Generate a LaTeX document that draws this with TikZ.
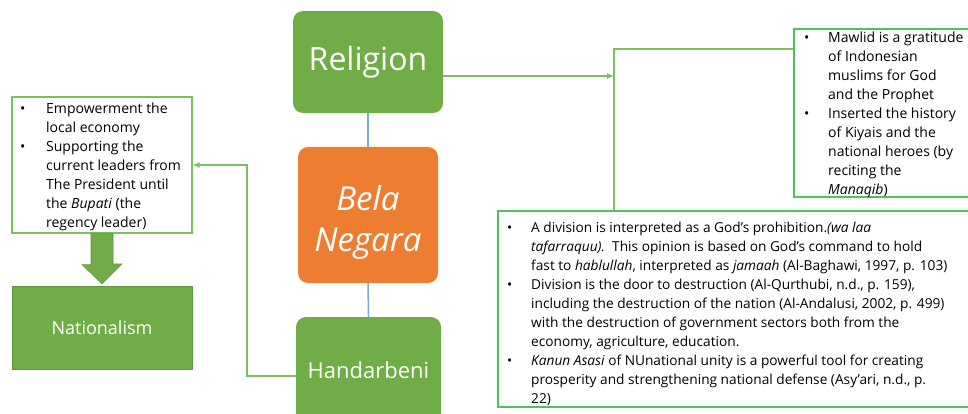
\documentclass[tikz,border=0pt]{standalone}
\usepackage{fontspec}
\setmainfont{Open Sans}
\usepackage{xcolor}
\usetikzlibrary{arrows.meta}
\definecolor{relGreen}{RGB}{112, 173, 71}
\definecolor{relGreenDark}{RGB}{94, 150, 58}
\definecolor{lineGreen}{RGB}{124, 190, 96}
\definecolor{boxGreen}{RGB}{80, 192, 96}
\definecolor{belaOrange}{RGB}{237, 125, 49}
\definecolor{linkBlue}{RGB}{126, 166, 217}

\begin{document}
\begin{tikzpicture}[x=1pt, y=-1pt]
            % Styles
            \tikzstyle{pillar} = [rectangle, rounded corners=10pt, fill=relGreen, text=white, inner sep=0pt]
            \tikzstyle{notebox} = [rectangle, draw=boxGreen, line width=1.2pt, fill=white, inner sep=0pt]
            \tikzstyle{notetext} = [anchor=north west, inner sep=0pt, font=\fontsize{14}{19}\selectfont, align=left]
            \tikzstyle{link} = [draw=lineGreen, line width=1.2pt]
            \tikzstyle{tip} = [-{Latex[length=7pt, width=6pt]}]
            \useasboundingbox (0,0) rectangle (968,414);
            
            % Pillars
            \node[pillar, minimum width=150pt, minimum height=102pt, font=\fontsize{32}{38}\selectfont] (rel) at (368, 62) {Religion};
            \node[pillar, fill=belaOrange, minimum width=140pt, minimum height=136pt] (bela) at (368, 215) {};
            \node[text=white, font=\fontsize{33}{41}\selectfont\itshape, align=center] (belatext) at ([yshift=-7pt]bela.center) {Bela\\Negara};
            \node[pillar, minimum width=145pt, minimum height=106pt, font=\fontsize{22}{26}\selectfont] (hand) at (368.5, 370) {Handarbeni};
            \draw[draw=linkBlue, line width=1.5pt] (rel.south) -- (bela.north);
            \draw[draw=linkBlue, line width=1.5pt] (bela.south) -- (hand.north);
            
            % Left side
            \node[notebox, draw=lineGreen, minimum width=180pt, minimum height=136pt] (lbox) at (102, 165) {};
            \node[notetext] (ltext) at (20, 100) {\begin{tabular}{@{}p{26pt}@{}l@{}}
                \textbullet & Empowerment the\\
                & local economy\\
                \textbullet & Supporting the\\
                & current leaders from\\
                & The President until\\
                & the \textit{Bupati} (the\\
                & regency leader)
            \end{tabular}};
            \node[rectangle, draw=relGreenDark, fill=relGreen, text=white, minimum width=180pt, minimum height=83pt, font=\fontsize{18}{21}\selectfont] (natl) at (102, 327.5) {Nationalism};
            \filldraw[fill=relGreen, draw=relGreenDark, line width=0.6pt] ([xshift=-11pt]lbox.south) -- ++(0,31) -- ++(-9,0) -- ([yshift=2pt]natl.north) -- ++(20,-20) -- ++(-9,0) -- ([xshift=11pt]lbox.south) -- cycle;
            \coordinate (hw) at ([yshift=-6pt]hand.west);
            \coordinate (hbend) at (247, 376);
            \draw[link, tip] (hw) -- (hbend) -- (hbend |- lbox.east) -- (lbox.east);
            
            % Right side
            \node[notebox, minimum width=200pt, minimum height=168pt] (rtop) at (894, 113) {};
            \node[notetext] (rtoptext) at (804, 29) {\begin{tabular}{@{}p{24pt}@{}l@{}}
                \textbullet & Mawlid is a gratitude\\
                & of Indonesian\\
                & muslims for God\\
                & and the Prophet\\
                \textbullet & Inserted the history\\
                & of Kiyais and the\\
                & national heroes (by\\
                & reciting the\\
                & \textit{Manaqib})
            \end{tabular}};
            \node[notebox, minimum width=500pt, minimum height=196pt] (rbot) at (748, 309) {};
            \node[notetext, font=\fontsize{13.7}{19}\selectfont] (rbottext) at (507, 219) {\begin{tabular}{@{}p{24pt}@{}l@{}}
                \textbullet & A division is interpreted as a God’s prohibition.\textit{(wa laa}\\
                & \textit{tafarraquu).}\ \ This opinion is based on God’s command to hold\\
                & fast to \textit{hablullah}, interpreted as \textit{jamaah} (Al-Baghawi, 1997, p. 103)\\
                \textbullet & Division is the door to destruction (Al-Qurthubi, n.d., p. 159),\\
                & including the destruction of the nation (Al-Andalusi, 2002, p. 499)\\
                & with the destruction of government sectors both from the\\
                & economy, agriculture, education.\\
                \textbullet & \textit{Kanun Asasi} of NUnational unity is a powerful tool for creating\\
                & prosperity and strengthening national defense (Asy’ari, n.d., p.\\
                & 22)
            \end{tabular}};
            \coordinate (jtop) at (614, 49);
            \draw[link] (rtop.west |- jtop) -- (jtop) -- (jtop |- rbot.north);
            \draw[link, tip] ([yshift=-14pt]rel.east) -- ([yshift=-14pt]rel.east -| jtop);
        \end{tikzpicture}
\end{document}
